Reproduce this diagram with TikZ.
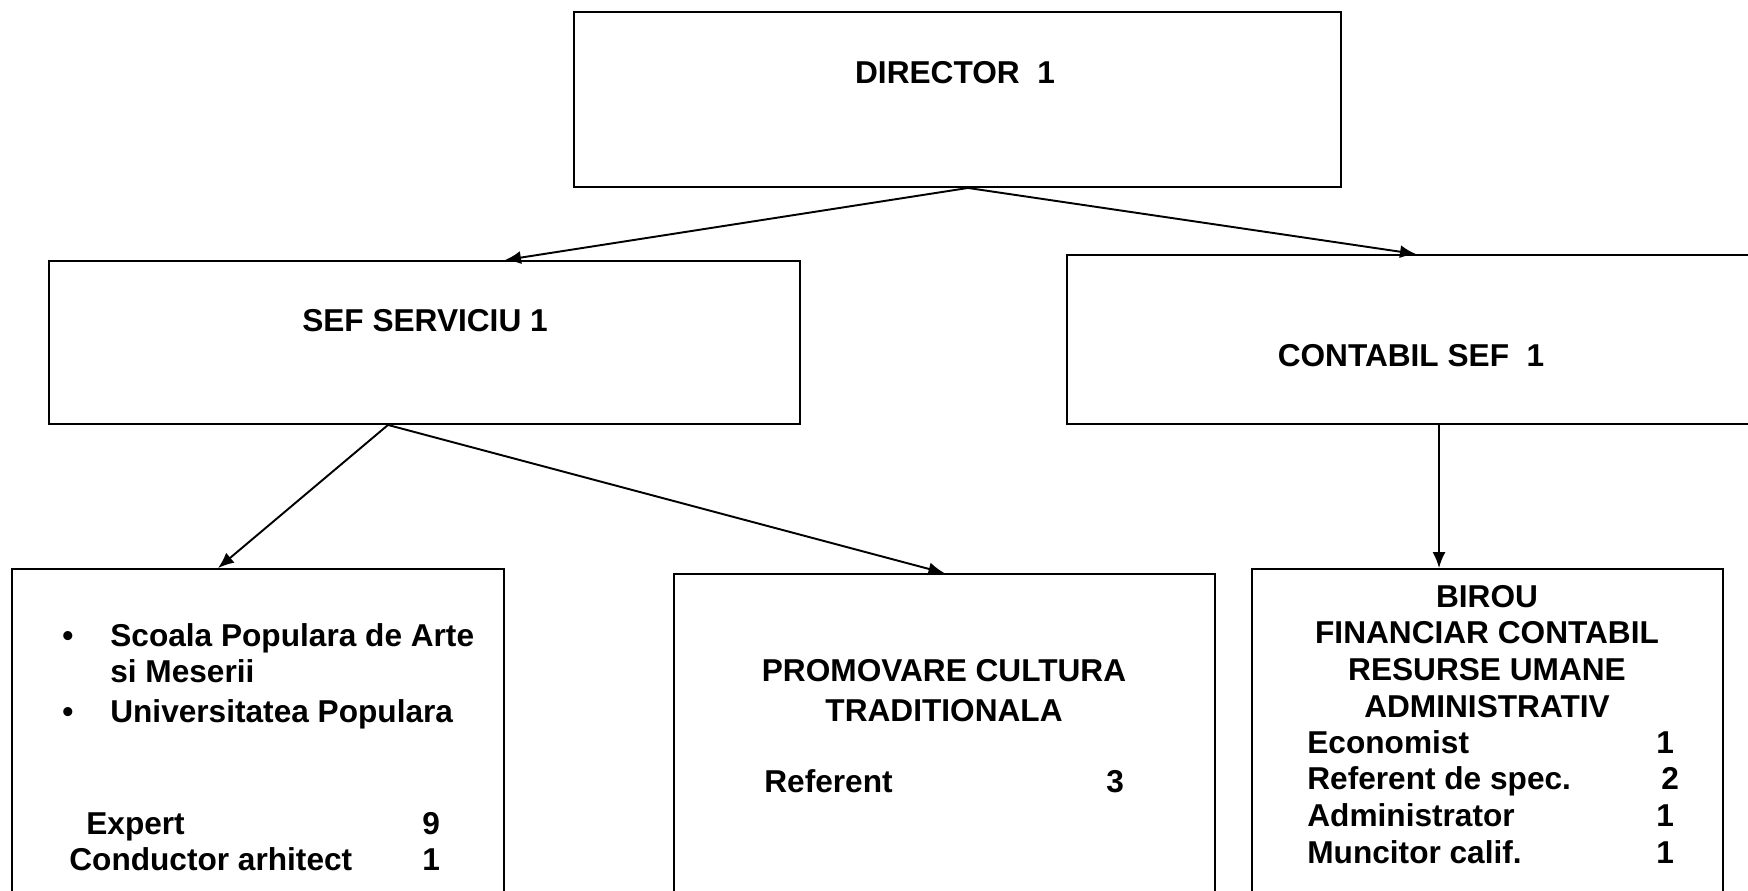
\documentclass[tikz,border=0pt]{standalone}
\usepackage{fontspec}
\setmainfont{Liberation Sans}
\usetikzlibrary{arrows.meta}

\begin{document}
\begin{tikzpicture}
	[x=0.02cm,y=-0.02cm,
	box/.style={draw,line width=1.1pt,inner sep=0pt},
	txt/.style={font=\fontsize{18}{21}\selectfont\bfseries,inner sep=0pt},
	arr/.style={-{Latex[length=0.32cm,width=0.26cm]},line width=1.1pt}]
	
	\useasboundingbox (0,0) rectangle (1748,890);
	\clip (0,0) rectangle (1748,890);
	
	\node[box,minimum width=15.34cm,minimum height=3.5cm] (director) at (957.5,99.5) {};
	\node[box,minimum width=15.02cm,minimum height=3.26cm] (sef) at (424.5,342.5) {};
	\node[box,minimum width=14.66cm,minimum height=3.38cm] (contabil) at (1433.5,339.5) {};
	\node[box,minimum width=9.84cm,minimum height=8.62cm] (scoala) at (258,784.5) {};
	\node[box,minimum width=10.82cm,minimum height=8.52cm] (promo) at (944.5,787) {};
	\node[box,minimum width=9.42cm,minimum height=8.62cm] (birou) at (1487.5,784.5) {};
	
	\node[txt,anchor=base] (tdirector) at (955,83) {DIRECTOR\ \ 1};
	\node[txt,anchor=base] (tsef) at (425,331) {SEF SERVICIU 1};
	\node[txt,anchor=base] (tcontabil) at (1411,366) {CONTABIL SEF\ \ 1};
	
	\node[txt,anchor=base west] (tscoala) at (62,646) {\begin{tabular}[t]{@{}p{0.96cm}@{}l@{}}
		\textbullet & Scoala Populara de Arte\\
		 & si Meserii\\[0.05cm]
		\textbullet & Universitatea Populara
	\end{tabular}};
	\node[txt,anchor=base west] (texpert) at (69,834) {\begin{tabular}[t]{@{}p{7.06cm}@{}l@{}}
		\hspace*{0.34cm}Expert & 9\\
		Conductor arhitect & 1
	\end{tabular}};
	
	\node[txt,anchor=base] (tpromo) at (944,681) {\begin{tabular}[t]{@{}c@{}}
		PROMOVARE CULTURA\\[0.08cm]
		TRADITIONALA
	\end{tabular}};
	\node[txt,anchor=base west] (treferent) at (764,792) {\begin{tabular}[t]{@{}p{6.84cm}@{}l@{}}
		Referent & 3
	\end{tabular}};
	
	\node[txt,anchor=base] (tbirou) at (1487,607) {\begin{tabular}[t]{@{}c@{}}
		BIROU\\
		FINANCIAR CONTABIL\\
		RESURSE UMANE\\
		ADMINISTRATIV
	\end{tabular}};
	\node[txt,anchor=base west] (tlist) at (1307,753) {\begin{tabular}[t]{@{}p{6.98cm}@{}l@{}}
		Economist & 1\\
		Referent de spec. & \hspace*{0.1cm}2\\
		Administrator & 1\\
		Muncitor calif. & 1
	\end{tabular}};
	
	\draw[arr] ([xshift=0.21cm]director.south) -- ([xshift=1.61cm]sef.north);
	\draw[arr] ([xshift=0.21cm]director.south) -- ([xshift=-0.35cm]contabil.north);
	\draw[arr] ([xshift=-0.73cm]sef.south) -- ([xshift=-0.8cm]scoala.north);
	\draw[arr] ([xshift=-0.73cm]sef.south) -- (promo.north);
	\draw[arr] ([xshift=-0.97cm]birou.north |- contabil.south) -- ([xshift=-0.97cm]birou.north);
	
\end{tikzpicture}
\end{document}
